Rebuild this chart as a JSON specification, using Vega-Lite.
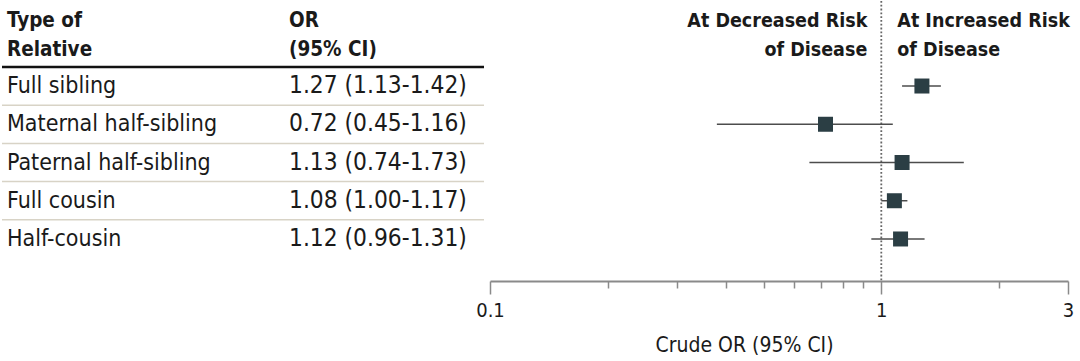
{
  "$schema": "https://vega.github.io/schema/vega-lite/v6.json",
  "padding": 0,
  "autosize": {"type": "pad"},
  "background": "white",
  "bounds": "flush",
  "spacing": 6,
  "config": {
    "view": {"stroke": null},
    "font": "DejaVu Sans Condensed"
  },
  "datasets": {
    "rows": [
      {"relative": "Full sibling", "or": 1.27, "lo": 1.13, "hi": 1.42, "label": "1.27 (1.13-1.42)"},
      {"relative": "Maternal half-sibling", "or": 0.72, "lo": 0.38, "hi": 1.07, "label": "0.72 (0.45-1.16)"},
      {"relative": "Paternal half-sibling", "or": 1.13, "lo": 0.655, "hi": 1.625, "label": "1.13 (0.74-1.73)"},
      {"relative": "Full cousin", "or": 1.08, "lo": 1.0, "hi": 1.166, "label": "1.08 (1.00-1.17)"},
      {"relative": "Half-cousin", "or": 1.12, "lo": 0.943, "hi": 1.29, "label": "1.12 (0.96-1.31)"}
    ]
  },
  "hconcat": [
    {
      "width": 482,
      "height": 280,
      "data": {"name": "rows"},
      "layer": [
        {
          "transform": [{"filter": "datum.relative == 'Full sibling'"}],
          "mark": {"type": "rule", "color": "#111111", "strokeWidth": 2.5},
          "encoding": {
            "y": {"field": "relative", "type": "nominal", "bandPosition": 0,
              "scale": {"type": "band", "domain": ["Full sibling", "Maternal half-sibling", "Paternal half-sibling", "Full cousin", "Half-cousin"], "paddingInner": 0, "paddingOuter": 0, "range": [65.9, 257.1]},
              "axis": null}
          }
        },
        {
          "transform": [{"filter": "datum.relative != 'Full sibling'"}],
          "mark": {"type": "rule", "color": "#d8d3c6", "strokeWidth": 1.5},
          "encoding": {
            "y": {"field": "relative", "type": "nominal", "bandPosition": 0, "axis": null}
          }
        },
        {
          "transform": [{"fold": ["relative", "label"], "as": ["col", "text"]}],
          "mark": {"type": "text", "align": "left", "baseline": "middle", "fontSize": {"expr": "datum.col == 'label' ? 24.3 : 23"}, "color": "#1a1a1a"},
          "encoding": {
            "x": {"field": "col", "type": "nominal", "scale": {"type": "point", "domain": ["relative", "label"], "range": [5, 287], "padding": 0}, "axis": null},
            "y": {"field": "relative", "type": "nominal", "axis": null},
            "text": {"field": "text"}
          }
        },
        {
          "data": {"values": [{"col": "relative", "text": "Type of\nRelative"}, {"col": "label", "text": "OR\n(95% CI)"}]},
          "mark": {"type": "text", "align": "left", "baseline": "bottom", "fontSize": 20.5, "fontWeight": "bold", "lineBreak": "\n", "lineHeight": 29, "color": "#1a1a1a", "dy": -36},
          "encoding": {
            "x": {"field": "col", "type": "nominal", "axis": null},
            "y": {"datum": "Full sibling", "type": "nominal", "bandPosition": 0, "axis": null},
            "text": {"field": "text"}
          }
        }
      ]
    },
    {
      "width": 578,
      "height": 280,
      "data": {"name": "rows"},
      "layer": [
        {
          "data": {"values": [{"ref": 1}]},
          "mark": {"type": "rule", "color": "#666666", "strokeWidth": 1.8, "strokeDash": [1.8, 2]},
          "encoding": {
            "x": {"field": "ref", "type": "quantitative", "title": "Crude OR (95% CI)"}
          }
        },
        {
          "mark": {"type": "rule", "color": "#4d4d4d", "strokeWidth": 1.5},
          "encoding": {
            "x": {"field": "lo", "type": "quantitative", "title": "Crude OR (95% CI)",
              "scale": {"type": "log", "domain": [0.1, 3], "nice": false},
              "axis": {
                "values": [0.1, 0.2, 0.3, 0.4, 0.5, 0.6, 0.7, 0.8, 0.9, 1, 2, 3],
                "labelExpr": "datum.value == 0.1 ? '0.1' : datum.value == 1 ? '1' : datum.value == 3 ? '3' : ''",
                "tickSize": {"condition": {"test": "datum.value == 0.1 || datum.value == 1 || datum.value == 3", "value": 13}, "value": 7},
                "grid": false,
                "domainColor": "#8a8a8a", "domainWidth": 2,
                "tickColor": "#8a8a8a", "tickWidth": 1.5,
                "labelFontSize": 20, "labelColor": "#1a1a1a", "labelPadding": 6,
                "labelFlush": false, "labelOverlap": false,
                "titleFontSize": 21, "titleFontWeight": "normal", "titleColor": "#1a1a1a",
                "titlePadding": 14, "titleX": 254
              }},
            "x2": {"field": "hi"},
            "y": {"field": "relative", "type": "nominal",
              "scale": {"type": "band", "domain": ["Full sibling", "Maternal half-sibling", "Paternal half-sibling", "Full cousin", "Half-cousin"], "paddingInner": 0, "paddingOuter": 0, "range": [65.9, 257.1]},
              "axis": null}
          }
        },
        {
          "mark": {"type": "point", "shape": "square", "filled": true, "size": 225, "color": "#2b3e44", "opacity": 1},
          "encoding": {
            "x": {"field": "or", "type": "quantitative", "title": "Crude OR (95% CI)"},
            "y": {"field": "relative", "type": "nominal", "axis": null}
          }
        },
        {
          "data": {"values": [{"ref": 1, "text": "At Decreased Risk\nof Disease"}]},
          "mark": {"type": "text", "align": "right", "baseline": "bottom", "fontSize": 19.5, "fontWeight": "bold", "lineBreak": "\n", "lineHeight": 29, "color": "#1a1a1a", "dx": -14, "dy": -36},
          "encoding": {
            "x": {"field": "ref", "type": "quantitative", "title": "Crude OR (95% CI)"},
            "y": {"datum": "Full sibling", "type": "nominal", "bandPosition": 0, "axis": null},
            "text": {"field": "text"}
          }
        },
        {
          "data": {"values": [{"ref": 1, "text": "At Increased Risk\nof Disease"}]},
          "mark": {"type": "text", "align": "left", "baseline": "bottom", "fontSize": 19.5, "fontWeight": "bold", "lineBreak": "\n", "lineHeight": 29, "color": "#1a1a1a", "dx": 16, "dy": -36},
          "encoding": {
            "x": {"field": "ref", "type": "quantitative", "title": "Crude OR (95% CI)"},
            "y": {"datum": "Full sibling", "type": "nominal", "bandPosition": 0, "axis": null},
            "text": {"field": "text"}
          }
        }
      ]
    }
  ]
}
